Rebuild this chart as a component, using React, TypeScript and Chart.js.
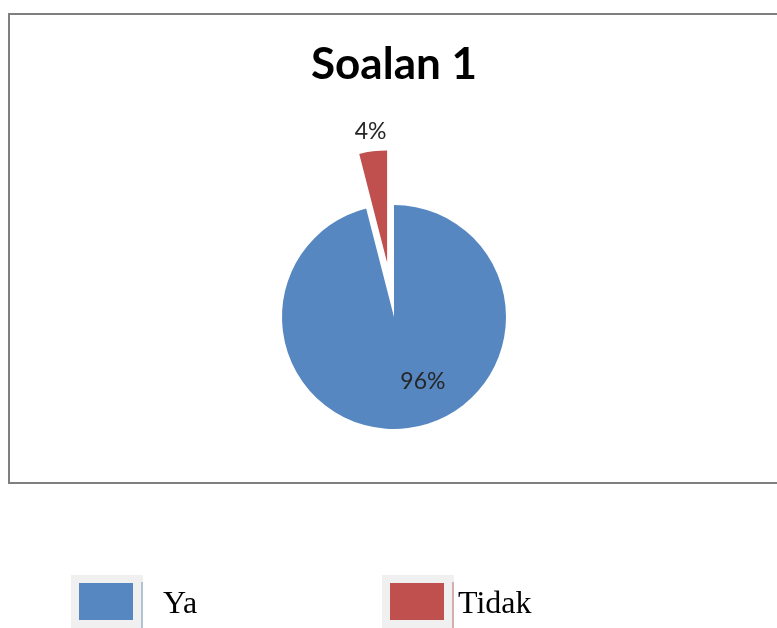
import React, { useEffect, useRef } from 'react';
import { Chart, registerables, PieController } from 'chart.js';

Chart.register(...registerables);

// ---- data ----
const TITLE = 'Soalan 1';
const CATEGORIES = ['Ya', 'Tidak'];
const VALUES = [96, 4];
const COLORS = ['#5687c1', '#c0504d'];

// ---- style ----
const EXPLODE_PX = [0, 55];
const LABEL_RADIUS = [0.63, 1.18];
const LABEL_SHIFT_DEG = [-17, 0];
const PIE_RADIUS = 112;

class ExplodedPieController extends PieController {
  static id = 'explodedPie';
  draw() {
    const chart: any = (this as any).chart;
    const ctx = chart.ctx;
    const meta: any = (this as any)._cachedMeta;
    meta.data.forEach((el: any, i: number) => {
      const d = EXPLODE_PX[i] || 0;
      const mid = (el.startAngle + el.endAngle) / 2;
      ctx.save();
      ctx.translate(Math.cos(mid) * d, Math.sin(mid) * d);
      el.draw(ctx, chart.chartArea);
      ctx.restore();
    });
  }
}
Chart.register(ExplodedPieController as any);

const framePlugin = {
  id: 'frame',
  beforeDraw(chart: any) {
    const ctx = chart.ctx;
    ctx.save();
    ctx.fillStyle = '#ffffff';
    ctx.fillRect(0, 0, chart.width, chart.height);
    ctx.strokeStyle = '#7f7f7f';
    ctx.lineWidth = 2;
    ctx.strokeRect(9, 14, chart.width + 20, 469);
    ctx.restore();
  },
};

const sliceLabelPlugin = {
  id: 'sliceLabels',
  afterDatasetsDraw(chart: any) {
    const ctx = chart.ctx;
    const meta = chart.getDatasetMeta(0);
    const total = VALUES.reduce((a, b) => a + b, 0);
    ctx.save();
    ctx.font = '23px Lato';
    ctx.fillStyle = '#262626';
    ctx.textAlign = 'center';
    ctx.textBaseline = 'middle';
    meta.data.forEach((el: any, i: number) => {
      const mid = (el.startAngle + el.endAngle) / 2;
      const cx = el.x + Math.cos(mid) * (EXPLODE_PX[i] || 0);
      const cy = el.y + Math.sin(mid) * (EXPLODE_PX[i] || 0);
      const a = mid + (LABEL_SHIFT_DEG[i] * Math.PI) / 180;
      const r = el.outerRadius * LABEL_RADIUS[i];
      const txt = Math.round((VALUES[i] / total) * 100) + '%';
      ctx.fillText(txt, cx + Math.cos(a) * r, cy + Math.sin(a) * r);
    });
    ctx.restore();
  },
};

const LEGEND_BG_X = [71, 382];
const LEGEND_TEXT_X = [163, 458];

const legendPlugin = {
  id: 'customLegend',
  afterDraw(chart: any) {
    const ctx = chart.ctx;
    ctx.save();
    CATEGORIES.forEach((cat, i) => {
      const bx = LEGEND_BG_X[i];
      ctx.fillStyle = '#f0f0f0';
      ctx.fillRect(bx, 575, 72, 53);
      ctx.fillStyle = COLORS[i];
      ctx.fillRect(bx + 8, 583, 54, 37);
      ctx.strokeStyle = i === 0 ? '#9fb3cc' : '#c99a99';
      ctx.lineWidth = 1.5;
      ctx.beginPath();
      ctx.moveTo(bx + 71, 582);
      ctx.lineTo(bx + 71, 628);
      ctx.stroke();
      ctx.fillStyle = '#000000';
      ctx.font = '32px "Liberation Serif"';
      ctx.textAlign = 'left';
      ctx.textBaseline = 'alphabetic';
      ctx.fillText(cat, LEGEND_TEXT_X[i], 613);
    });
    ctx.restore();
  },
};

export default function App() {
  const ref = useRef<HTMLCanvasElement | null>(null);
  useEffect(() => {
    if (!ref.current) return;
    const chart = new Chart(ref.current, {
      type: 'explodedPie' as any,
      data: {
        labels: CATEGORIES,
        datasets: [
          {
            data: VALUES,
            backgroundColor: COLORS,
            borderWidth: 0,
            radius: PIE_RADIUS,
          } as any,
        ],
      },
      options: {
        animation: false,
        responsive: true,
        maintainAspectRatio: false,
        layout: { padding: { left: 11, right: 0, top: 0, bottom: 84.8 } },
        plugins: {
          legend: { display: false },
          tooltip: { enabled: false },
          title: {
            display: true,
            text: TITLE,
            color: '#000000',
            font: { family: 'Lato', size: 44, weight: 'bold', lineHeight: 1.2 },
            padding: { top: 38, bottom: 0 },
          },
        },
      } as any,
      plugins: [framePlugin, sliceLabelPlugin, legendPlugin],
    });
    return () => chart.destroy();
  }, []);
  return (
    <div style={{ position: 'fixed', left: 0, top: 0, width: 777, height: 628 }}>
      <canvas ref={ref} />
    </div>
  );
}
